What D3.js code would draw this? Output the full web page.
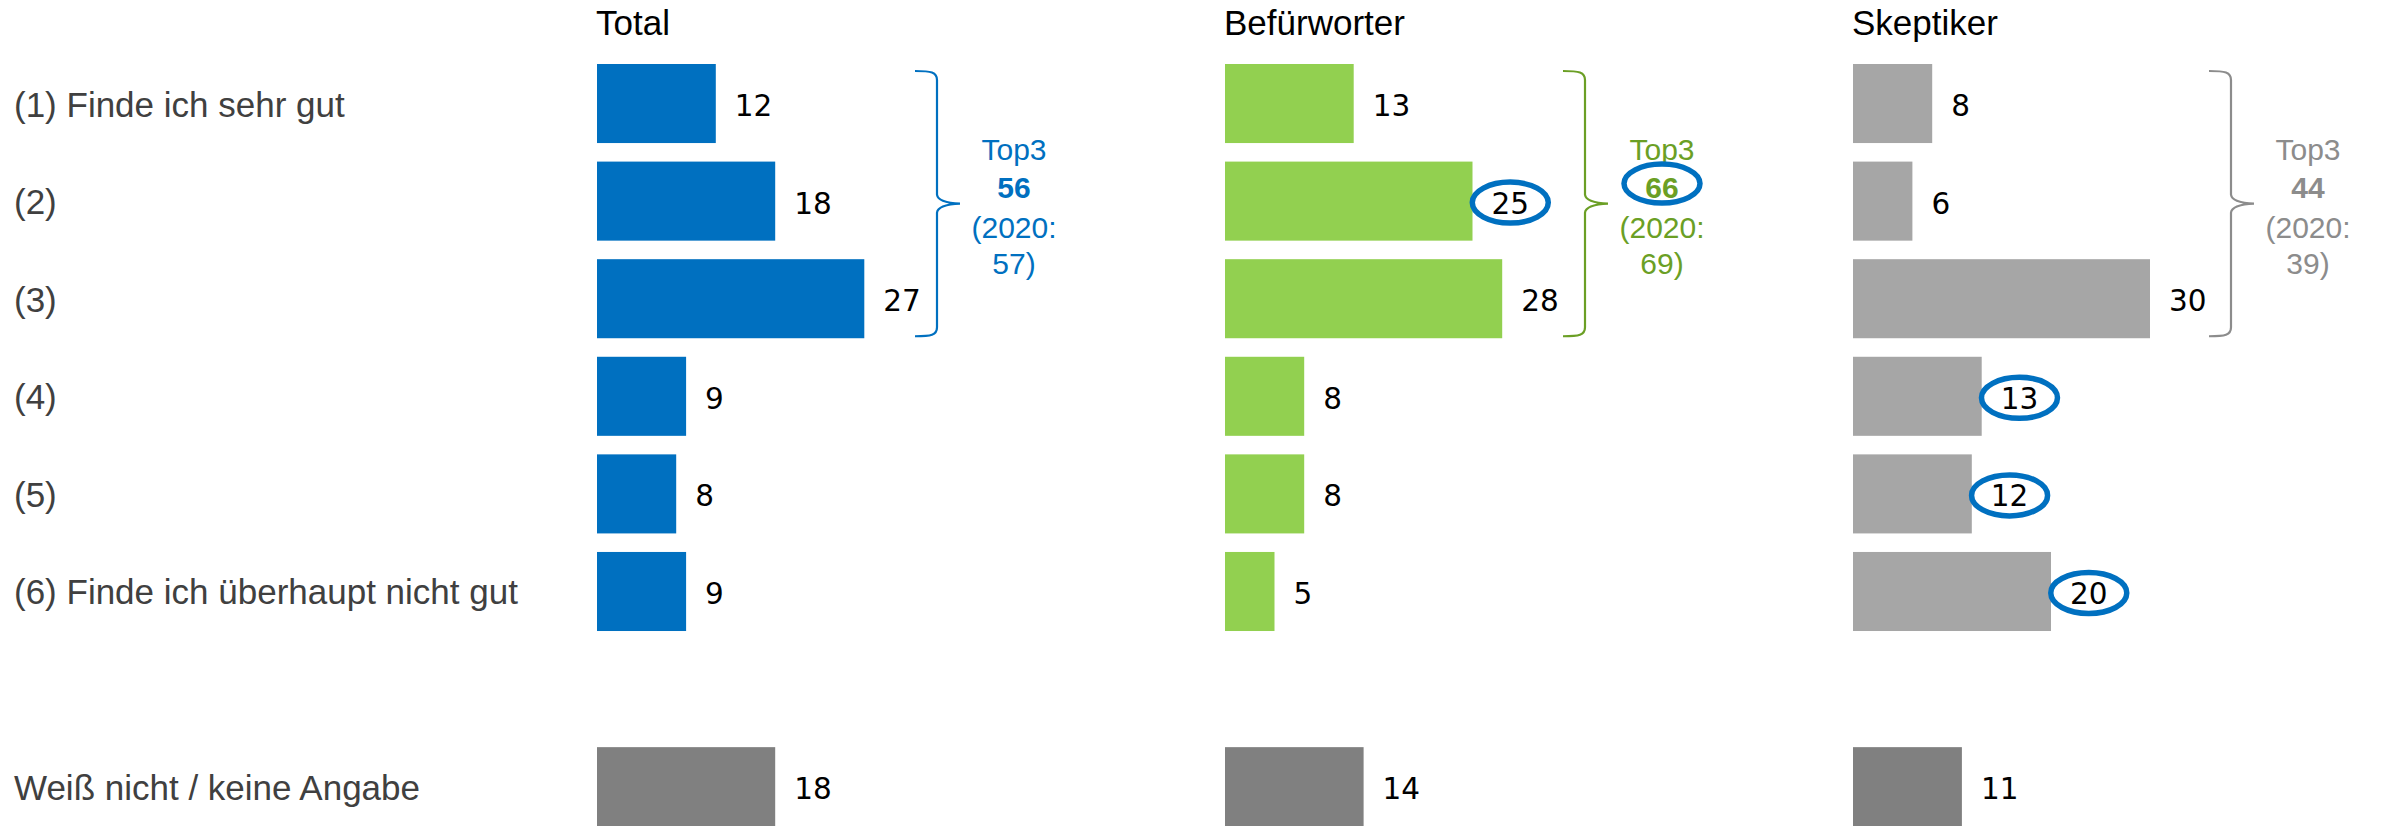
<!DOCTYPE html>
<html>
<head>
<meta charset="utf-8">
<script src="https://cdn.jsdelivr.net/npm/d3@7"></script>
<style>
  html, body { margin: 0; padding: 0; background: #fff; }
  svg { display: block; }
</style>
</head>
<body>
<svg id="chart" width="2386" height="826"></svg>
<script>
// ---------------- DATA ----------------
const categories = [
  "(1) Finde ich sehr gut", "(2)", "(3)", "(4)", "(5)",
  "(6) Finde ich überhaupt nicht gut"
];
const dkLabel = "Weiß nicht / keine Angabe";
const groupNames = ["Total", "Befürworter", "Skeptiker"];
const totalValues = [12, 18, 27, 9, 8, 9];
const befuerworterValues = [13, 25, 28, 8, 8, 5];
const skeptikerValues = [8, 6, 30, 13, 12, 20];
const dkValues = [18, 14, 11];
const top3Values = [56, 66, 44];
const top3Values2020 = [57, 69, 39];
// highlighted (circled) row indices per group, and whether the Top3 value is circled
const circledRows = [[], [1], [3, 4, 5]];
const circledTop3 = [false, true, false];

// ---------------- STYLE / LAYOUT ----------------
const barColors = ["#0070C0", "#92D050", "#A6A6A6"];
const accentColors = ["#0070C0", "#6B9F25", "#8C8C8C"];
const braceColors = ["#0070C0", "#6B9F25", "#8C8C8C"];
const dkColor = "#808080";
const ringColor = "#0070C0";
const panelX = [597, 1225, 1853];
const braceX = [937, 1585, 2231];

const svg = d3.select("#chart");
const seriesValues = [totalValues, befuerworterValues, skeptikerValues];

// y: 6 categories, one empty slot, then "don't know"
const rowKeys = categories.concat(["__gap__", dkLabel]);
const y = d3.scaleBand()
  .domain(rowKeys)
  .range([64, 826.2])
  .paddingInner(0.19)
  .paddingOuter(0);

const x = d3.scaleLinear().domain([0, 30]).range([0, 297]);

// category labels
svg.append("g").selectAll("text")
  .data(categories.concat([dkLabel]))
  .join("text")
  .attr("x", 14)
  .attr("y", d => y(d) + y.bandwidth() / 2 + 13)
  .attr("font-family", "Liberation Sans, Arial, sans-serif")
  .attr("font-size", 35)
  .attr("fill", "#404040")
  .text(d => d);

groupNames.forEach((name, gi) => {
  const g = svg.append("g").attr("transform", `translate(${panelX[gi]},0)`);
  const vals = seriesValues[gi];

  // header
  g.append("text")
    .attr("x", -1)
    .attr("y", 35)
    .attr("font-family", "Liberation Sans, Arial, sans-serif")
    .attr("font-size", 35)
    .attr("fill", "#000")
    .text(name);

  const rows = vals.map((v, i) => ({ key: categories[i], v, color: barColors[gi], circled: circledRows[gi].includes(i) }))
    .concat([{ key: dkLabel, v: dkValues[gi], color: dkColor, circled: false }]);

  g.selectAll("rect.bar")
    .data(rows)
    .join("rect")
    .attr("class", "bar")
    .attr("x", 0)
    .attr("y", d => y(d.key))
    .attr("width", d => x(d.v))
    .attr("height", y.bandwidth())
    .attr("fill", d => d.color);

  const labels = g.selectAll("text.val")
    .data(rows)
    .join("text")
    .attr("class", "val")
    .attr("x", d => x(d.v) + 19)
    .attr("y", d => y(d.key) + y.bandwidth() / 2 + 12.5)
    .attr("font-family", "DejaVu Sans, Verdana, sans-serif")
    .attr("font-size", 29.5)
    .attr("fill", "#000")
    .text(d => d.v);

  // rings around highlighted values
  labels.filter(d => d.circled).each(function (d) {
    const w = this.getComputedTextLength();
    g.append("ellipse")
      .attr("cx", x(d.v) + 19 + w / 2)
      .attr("cy", y(d.key) + y.bandwidth() / 2 + 1.5)
      .attr("rx", 38)
      .attr("ry", 20.5)
      .attr("fill", "none")
      .attr("stroke", ringColor)
      .attr("stroke-width", 5.5);
  });

  // brace spanning Top3 rows
  const top = y(categories[0]) + 7;
  const bot = y(categories[2]) + y.bandwidth() - 2;
  const mid = (top + bot) / 2;
  const bx = braceX[gi] - panelX[gi];
  const p = d3.path();
  p.moveTo(bx - 22, top);
  p.bezierCurveTo(bx - 6, top, bx, top + 1, bx, top + 9);
  p.lineTo(bx, mid - 9);
  p.quadraticCurveTo(bx + 1, mid - 1, bx + 23, mid);
  p.moveTo(bx + 23, mid);
  p.quadraticCurveTo(bx + 1, mid + 1, bx, mid + 9);
  p.lineTo(bx, bot - 9);
  p.bezierCurveTo(bx, bot - 1, bx - 6, bot, bx - 22, bot);
  g.append("path")
    .attr("d", p.toString())
    .attr("fill", "none")
    .attr("stroke", braceColors[gi])
    .attr("stroke-width", 2.2);

  // Top3 annotation
  const tx = bx + 77;
  const lines = [
    { t: "Top3", dy: -44, bold: false },
    { t: String(top3Values[gi]), dy: -6, bold: true },
    { t: "(2020:", dy: 34, bold: false },
    { t: top3Values2020[gi] + ")", dy: 70, bold: false }
  ];
  g.append("g").selectAll("text")
    .data(lines)
    .join("text")
    .attr("x", tx)
    .attr("y", d => mid + d.dy)
    .attr("text-anchor", "middle")
    .attr("font-family", "Liberation Sans, Arial, sans-serif")
    .attr("font-size", 30)
    .attr("font-weight", d => d.bold ? "bold" : "normal")
    .attr("fill", accentColors[gi])
    .text(d => d.t);

  if (circledTop3[gi]) {
    g.append("ellipse")
      .attr("cx", tx)
      .attr("cy", mid - 6 - 14)
      .attr("rx", 38)
      .attr("ry", 19.5)
      .attr("fill", "none")
      .attr("stroke", ringColor)
      .attr("stroke-width", 5.5);
  }
});
</script>
</body>
</html>
